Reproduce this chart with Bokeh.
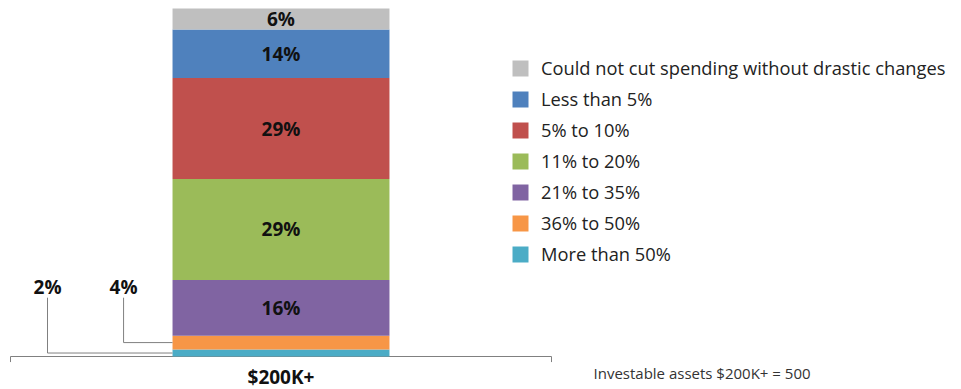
from bokeh.plotting import figure
from bokeh.models import Range1d, Legend, LegendItem, Label, ColumnDataSource
from bokeh.core.properties import value
from bokeh.embed import file_html
from bokeh.resources import INLINE

categories = ["$200K+"]
series = ["More than 50%", "36% to 50%", "21% to 35%", "11% to 20%",
          "5% to 10%", "Less than 5%", "Could not cut spending without drastic changes"]
values = [2, 4, 16, 29, 29, 14, 6]
colors = ["#4BACC6", "#F79646", "#8064A2", "#9BBB59", "#C0504D", "#4F81BD", "#BFBFBF"]
value_labels = ["2%", "4%", "16%", "29%", "29%", "14%", "6%"]
footnote = "Investable assets $200K+ = 500"

FONT = "Open Sans"
BOLD_SIZE = "19px"
BAR_W = 0.401
AXIS_COLOR = "#808080"
cat_x = list(range(len(categories)))

# category slot (-0.5..0.5) occupies 541 px starting 10 px from the left edge
p = figure(width=961, height=389,
           x_range=Range1d(-0.5 - 10 / 541, -0.5 + 951 / 541),
           y_range=Range1d(-9.48, 102.3),
           output_backend="svg", toolbar_location=None,
           x_axis_location=None, y_axis_location=None, min_border=0)
p.outline_line_color = None
p.xgrid.visible = False
p.ygrid.visible = False

# category axis: baseline and end ticks, category label
lo, hi = cat_x[0] - 0.5, cat_x[-1] + 0.5
p.segment(x0=[lo], y0=[0], x1=[hi], y1=[0], line_color=AXIS_COLOR, line_width=1)
p.segment(x0=[lo, hi], y0=[0, 0], x1=[lo, hi], y1=[-1.6, -1.6],
          line_color=AXIS_COLOR, line_width=1)
p.text(x=cat_x, y=[-6.0] * len(cat_x), text=categories, text_font=value(FONT),
       text_font_style="bold", text_font_size=BOLD_SIZE, text_align="center",
       text_baseline="middle", text_color="#111111")

data = {"x": cat_x}
for s, v in zip(series, values):
    data[s] = [v]
src = ColumnDataSource(data)
rends = p.vbar_stack(series, x="x", width=BAR_W, color=colors, source=src, line_color=None)

# in-bar labels
mids = []
acc = 0
for v in values:
    mids.append(acc + v / 2)
    acc += v
inside = [i for i, v in enumerate(values) if v >= 6]
p.text(x=[cat_x[0]] * len(inside), y=[mids[i] for i in inside],
       text=[value_labels[i] for i in inside], text_font=value(FONT),
       text_font_style="bold", text_font_size=BOLD_SIZE, text_align="center",
       text_baseline="middle", text_color="#111111")

# callouts for the two small segments
bar_left = cat_x[0] - BAR_W / 2
callout_x = [-0.4316, -0.291]
label_y = 20.0
line_top = 16.9
for i, cx in zip([0, 1], callout_x):
    p.line(x=[cx, cx, bar_left], y=[line_top, mids[i], mids[i]],
           line_color=AXIS_COLOR, line_width=1)
p.text(x=callout_x, y=[label_y, label_y], text=value_labels[:2],
       text_font=value(FONT), text_font_style="bold", text_font_size=BOLD_SIZE,
       text_align="center", text_baseline="middle", text_color="#111111")

# legend
items = [LegendItem(label=s, renderers=[r]) for s, r in zip(series, rends)][::-1]
leg = Legend(items=items, location=(510, 123), padding=0, margin=0,
             border_line_color=None, background_fill_alpha=0,
             label_text_font=FONT, label_text_font_size="18.3px", label_text_color="#222222",
             glyph_width=20, glyph_height=20, label_standoff=11, spacing=6, label_height=20)
p.add_layout(leg)

p.add_layout(Label(x=593, y=17, x_units="screen", y_units="screen", text=footnote,
                   text_font=FONT, text_font_size="15px", text_color="#333333",
                   text_baseline="middle"))

open("out.html", "w").write(file_html(p, INLINE))
